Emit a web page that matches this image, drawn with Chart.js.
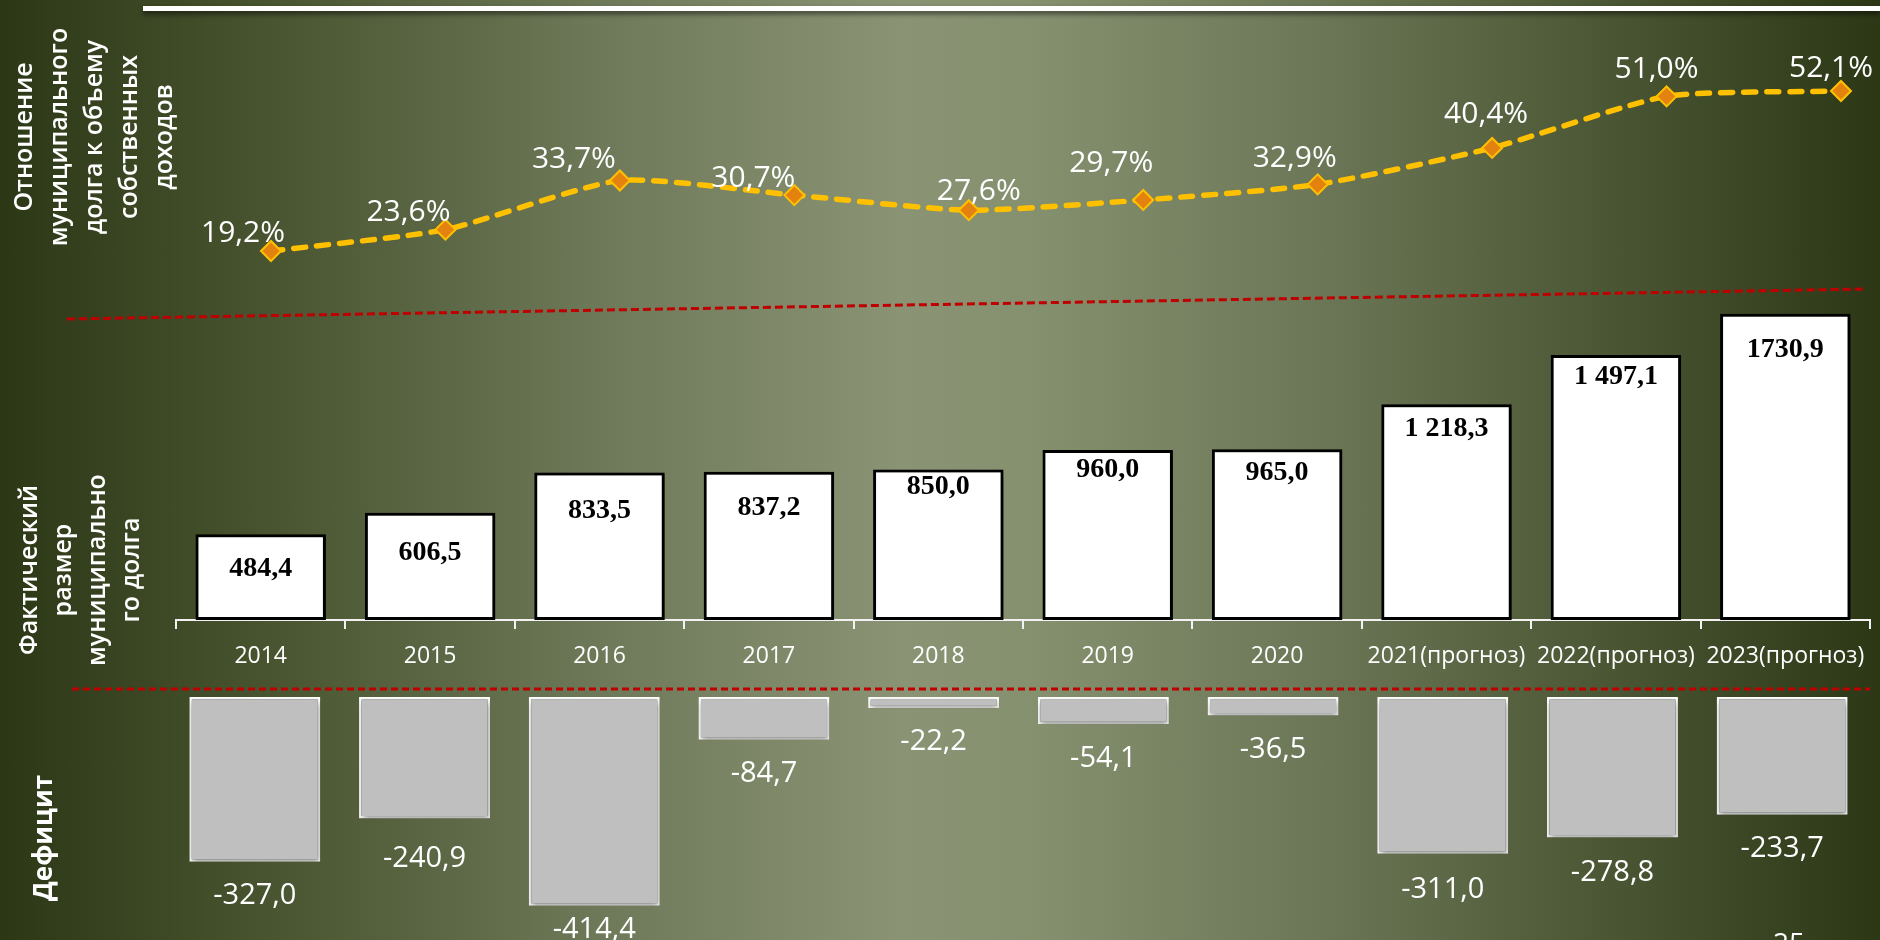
<!DOCTYPE html>
<html>
<head>
<meta charset="utf-8">
<script src="https://cdn.jsdelivr.net/npm/chart.js@4.4.0/dist/chart.umd.min.js"></script>
<style>
  html, body { margin: 0; padding: 0; }
  body {
    width: 1880px; height: 940px; overflow: hidden; position: relative;
    background: linear-gradient(90deg, #2c3716 0%, #48532f 14%, #6e7959 32%, #8a9474 48%, #85906f 55%, #6c7757 70%, #4a5533 86%, #2c3716 100%);
    font-family: 'Open Sans', sans-serif;
  }
  canvas { position: absolute; left: 0; }
  .title {
    position: absolute; color: #fff; text-align: center; white-space: nowrap;
    transform: translate(-50%, -50%) rotate(-90deg);
  }
  #topLine {
    position: absolute; left: 143px; top: 6px; width: 1737px; height: 5px;
    background: #fff; box-shadow: 0 3px 5px rgba(0,0,0,0.55);
  }
</style>
</head>
<body>
<div id="topLine"></div>
<canvas id="ratioChart" width="1880" height="360" style="top:0"></canvas>
<canvas id="debtChart" width="1880" height="450" style="top:240px"></canvas>
<canvas id="deficitChart" width="1880" height="270" style="top:690px"></canvas>

<svg width="1880" height="940" style="position:absolute;left:0;top:0;pointer-events:none">
  <line x1="67" y1="319" x2="1866" y2="289" stroke="#c00000" stroke-width="3" stroke-dasharray="8 4"/>
  <line x1="72" y1="689" x2="1870" y2="689" stroke="#c00000" stroke-width="3" stroke-dasharray="7 4"/>
</svg>

<div class="title" style="left:92px;top:137px;font-size:25px;font-weight:600;line-height:35px">Отношение<br>муниципального<br>долга к объему<br>собственных<br>доходов</div>
<div class="title" style="left:78px;top:570px;font-size:25px;font-weight:600;line-height:34px">Фактический<br>размер<br>муниципально<br>го долга</div>
<div class="title" style="left:42px;top:838px;font-size:26px;font-weight:700">Дефицит</div>
<div style="position:absolute;left:1773px;top:922px;color:#fff;font-size:28px;line-height:40px">25</div>

<script>
let years = ['2014', '2015', '2016', '2017', '2018', '2019', '2020', '2021(прогноз)', '2022(прогноз)', '2023(прогноз)']
let debtRatio = [19.2, 23.6, 33.7, 30.7, 27.6, 29.7, 32.9, 40.4, 51.0, 52.1]
let debtSize = [484.4, 606.5, 833.5, 837.2, 850.0, 960.0, 965.0, 1218.3, 1497.1, 1730.9]
let debtSizeText = ['484,4', '606,5', '833,5', '837,2', '850,0', '960,0', '965,0', '1 218,3', '1 497,1', '1730,9']
let deficit = [-327.0, -240.9, -414.4, -84.7, -22.2, -54.1, -36.5, -311.0, -278.8, -233.7]

// label nudges, copied from the slide by eye
let ratioLabelShift = [[-28, -18], [-37, -17], [-46, -21], [-41, -17], [10, -19], [-32, -37], [-23, -26], [-6, -33], [-10, -27], [-10, -23]]
let debtLabelDrop = [35, 40, 38, 36, 17, 20, 24, 24, 22, 36]
let deficitLabelDrop = [34, 40, 24, 34, 34, 34, 34, 36, 35, 34]

let comma = (v) => v.toFixed(1).replace('.', ',')

let baseOptions = {
  responsive: false,
  animation: false,
  events: [],
  plugins: { legend: { display: false }, tooltip: { enabled: false } }
}

// top: line with percentages
new Chart(document.getElementById('ratioChart'), {
  type: 'line',
  data: {
    labels: years,
    datasets: [{
      data: debtRatio,
      borderColor: '#FFC000',
      borderWidth: 5.5,
      borderDash: [12, 11],
      borderCapStyle: 'round',
      tension: 0.2,
      clip: false,
      pointStyle: 'rectRot',
      pointRadius: 10,
      pointBackgroundColor: '#E3820F',
      pointBorderColor: '#FFC000',
      pointBorderWidth: 2
    }]
  },
  options: {
    ...baseOptions,
    layout: { padding: { left: 271, right: 39, top: 52.6, bottom: 15.6 } },
    scales: {
      x: { display: false, offset: false },
      y: { display: false, min: 0, max: 60 }
    }
  },
  plugins: [{
    id: 'ratioLabels',
    afterDatasetsDraw(chart) {
      let ctx = chart.ctx
      ctx.save()
      ctx.font = '30px "Open Sans"'
      ctx.fillStyle = '#fff'
      ctx.textAlign = 'center'
      ctx.textBaseline = 'middle'
      chart.getDatasetMeta(0).data.forEach((pt, i) => {
        let s = ratioLabelShift[i]
        ctx.fillText(comma(debtRatio[i]) + '%', pt.x + s[0], pt.y + s[1])
      })
      ctx.restore()
    }
  }]
})

// middle: debt size bars with year axis
new Chart(document.getElementById('debtChart'), {
  type: 'bar',
  data: {
    labels: years,
    datasets: [{
      data: debtSize,
      backgroundColor: '#ffffff',
      borderColor: '#000000',
      borderWidth: 3,
      borderSkipped: false,
      barPercentage: 0.77,
      categoryPercentage: 1
    }]
  },
  options: {
    ...baseOptions,
    layout: { padding: { left: 176, right: 10, top: 26, bottom: 0 } },
    scales: {
      x: {
        z: 1,
        grid: { display: true, drawOnChartArea: false, drawTicks: true, tickLength: 9, color: '#f2f2f2', lineWidth: 2, offset: true },
        border: { display: true, color: '#f2f2f2', width: 2 },
        ticks: { color: '#ffffff', font: { family: 'Open Sans', size: 23 }, maxRotation: 0, autoSkip: false, padding: 14 },
        afterFit: (s) => { s.height = 70 }
      },
      y: { display: false, min: 0, max: 2000 }
    }
  },
  plugins: [{
    id: 'debtLook',
    beforeDatasetsDraw(chart) {
      let ctx = chart.ctx
      ctx.save()
      ctx.shadowColor = 'rgba(0,0,0,0.5)'
      ctx.shadowBlur = 5
      ctx.shadowOffsetX = 3
      ctx.shadowOffsetY = 2
    },
    afterDatasetsDraw(chart) {
      let ctx = chart.ctx
      ctx.restore()
      ctx.save()
      ctx.font = 'bold 28px "Liberation Serif"'
      ctx.fillStyle = '#000'
      ctx.textAlign = 'center'
      ctx.textBaseline = 'middle'
      chart.getDatasetMeta(0).data.forEach((bar, i) => {
        ctx.fillText(debtSizeText[i], bar.x, bar.y + debtLabelDrop[i])
      })
      ctx.restore()
    }
  }]
})

// bottom: deficit bars hanging down
new Chart(document.getElementById('deficitChart'), {
  type: 'bar',
  data: {
    labels: years,
    datasets: [{
      data: deficit,
      backgroundColor: '#BFBFBF',
      borderColor: '#ffffff',
      borderWidth: 2.5,
      borderSkipped: false,
      barPercentage: 0.772,
      categoryPercentage: 1
    }]
  },
  options: {
    ...baseOptions,
    layout: { padding: { left: 170, right: 13, top: 7, bottom: 11 } },
    scales: {
      x: { display: false },
      y: { display: false, min: -500, max: 0 }
    }
  },
  plugins: [{
    id: 'deficitLook',
    beforeDatasetsDraw(chart) {
      let ctx = chart.ctx
      ctx.save()
      ctx.shadowColor = 'rgba(0,0,0,0.4)'
      ctx.shadowBlur = 6
      ctx.shadowOffsetX = 1
      ctx.shadowOffsetY = 3
    },
    afterDatasetsDraw(chart) {
      let ctx = chart.ctx
      ctx.restore()
      ctx.save()
      ctx.font = '29px "Open Sans"'
      ctx.fillStyle = '#fff'
      ctx.textAlign = 'center'
      ctx.textBaseline = 'middle'
      chart.getDatasetMeta(0).data.forEach((bar, i) => {
        ctx.fillText(comma(deficit[i]), bar.x, bar.y + deficitLabelDrop[i])
      })
      ctx.restore()
    }
  }]
})
</script>
</body>
</html>
